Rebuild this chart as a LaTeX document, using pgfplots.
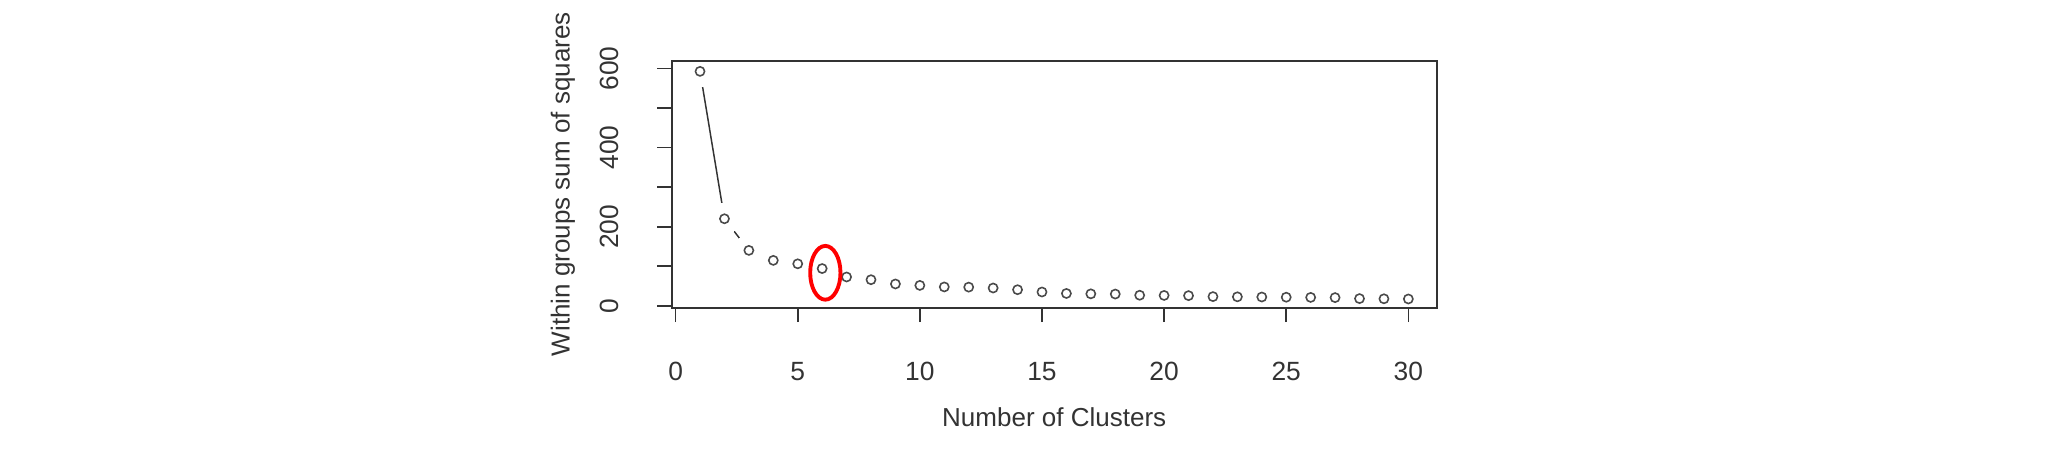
\documentclass[border=0pt]{standalone}
\usepackage{pgfplots}
\usepackage{pgfplotstable}
\pgfplotsset{compat=1.18}
\usepackage{fontspec}
\setmainfont{Liberation Sans}
\definecolor{ink}{HTML}{333333}
\definecolor{markc}{HTML}{4A4A4A}

\pgfplotstableread{
k wss
1 593
2 220
3 140
4 114.7
5 106
6 94
7 72.7
8 65.8
9 55
10 51.4
11 47.5
12 47
13 44.8
14 40.5
15 34.7
16 31
17 30
18 29.5
19 26.5
20 26
21 25.5
22 23
23 22.5
24 22
25 21.5
26 21
27 20.5
28 18
29 17.5
30 17
}\wss

\begin{document}
\begin{tikzpicture}
\useasboundingbox (0,0) rectangle (20.48cm,4.57cm);
\begin{axis}[
  at={(6.717cm,1.493cm)}, anchor=south west,
  scale only axis, width=7.65cm, height=2.47cm,
  xmin=-0.16, xmax=31.16, ymin=-5, ymax=620,
  axis on top, clip marker paths=true,
  axis line style={ink, line width=0.48pt},
  xtick={0,5,...,30}, ytick={0,100,...,600},
  yticklabels={0,,200,,400,,600},
  xtick pos=left, ytick pos=left,
  tick align=outside, major tick length=0.145cm,
  tick style={ink, line width=0.48pt},
  /pgf/number format/assume math mode=true,
  tick label style={font=\fontsize{7.5}{8.5}\selectfont, text=ink},
  xticklabel style={anchor=center}, xticklabel shift=0.49cm,
  yticklabel style={rotate=90, anchor=center}, yticklabel shift=0.477cm,
  label style={font=\fontsize{7.4}{8.5}\selectfont, text=ink},
  xlabel={Number of Clusters},
  xlabel style={at={(axis description cs:0.5,-0.4453)}, anchor=center},
  ylabel={Within groups sum of squares},
  ylabel style={at={(axis description cs:-0.1421,0.5)}, anchor=center},
]
\addplot[ink, line width=0.42pt, no markers] table[x=k, y=wss] {\wss};
\addplot[white, only marks, mark=*, mark size=4.4pt, mark options={fill=white, draw=white, line width=0pt}] table[x=k, y=wss] {\wss};
\addplot[markc, only marks, mark=o, mark size=1.3pt, mark options={draw=markc, line width=0.45pt}] table[x=k, y=wss] {\wss};
\draw[red, line width=1.1pt] (axis cs:6.13,83.3) ellipse [x radius=0.62, y radius=68];
\end{axis}
\end{tikzpicture}
\end{document}
